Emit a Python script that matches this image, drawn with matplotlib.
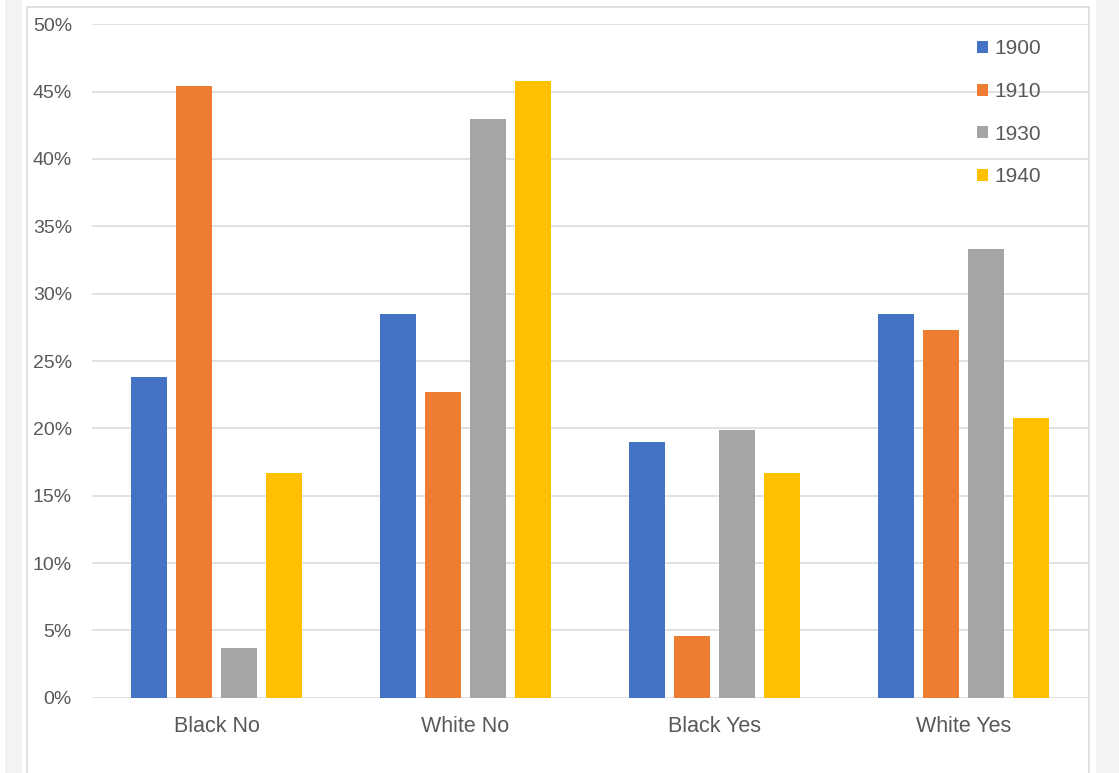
import matplotlib
matplotlib.use("Agg")
import matplotlib.pyplot as plt
from matplotlib.patches import Patch, Rectangle
import numpy as np

categories = ["Black No", "White No", "Black Yes", "White Yes"]
years = ["1900", "1910", "1930", "1940"]
v1900 = [23.8, 28.5, 19.0, 28.5]
v1910 = [45.4, 22.7, 4.6, 27.3]
v1930 = [3.7, 43.0, 19.9, 33.3]
v1940 = [16.7, 45.8, 16.7, 20.8]
series = [v1900, v1910, v1930, v1940]
colors = ["#4472C4", "#ED7D31", "#A5A5A5", "#FFC000"]
yticks = [0, 5, 10, 15, 20, 25, 30, 35, 40, 45, 50]

W, H = 1119, 773
fig = plt.figure(figsize=(W / 100, H / 100), dpi=100)
fig.patch.set_facecolor("white")
plt.rcParams['font.family'] = ['Liberation Sans', 'DejaVu Sans']

# background bands and chart border
fig.add_artist(Rectangle((5 / W, 0), 17 / W, 1, transform=fig.transFigure,
                         facecolor="#f3f3f3", edgecolor="none", zorder=0))
fig.add_artist(Rectangle((1096 / W, 0), 23 / W, 1, transform=fig.transFigure,
                         facecolor="#f3f3f3", edgecolor="none", zorder=0))
fig.add_artist(Rectangle((27 / W, -0.01), (1089 - 27) / W, (H - 7) / H + 0.01,
                         transform=fig.transFigure, facecolor="white",
                         edgecolor="#d9d9d9", linewidth=1.2, zorder=0))

ax = fig.add_axes([92 / W, (H - 697.7) / H, (1088 - 92) / W, (697.7 - 24.3) / H])
ax.set_facecolor("none")

x = np.arange(len(categories))
width = 36 / 249
step = 45 / 249
for i, (vals, c, lab) in enumerate(zip(series, colors, years)):
    ax.bar(x + (i - 1.5) * step, vals, width=width, color=c, label=lab, zorder=3)

ax.set_xlim(-0.5, 3.5)
ax.set_ylim(0, 50)
ax.set_yticks(yticks)
ax.set_yticklabels([f"{t}%" for t in yticks])
ax.set_xticks(x)
ax.set_xticklabels(categories)
ax.tick_params(axis="both", length=0, colors="#595959")
ax.tick_params(axis="y", pad=14.5, labelsize=14)
ax.tick_params(axis="x", pad=13.5, labelsize=15.5)
ax.grid(axis="y", color="#d9d9d9", linewidth=1.1, zorder=0)
for s in ax.spines.values():
    s.set_visible(False)

handles = [Patch(facecolor=c, edgecolor="none") for c in colors]
leg = fig.legend(handles, years, loc="upper left",
                 bbox_to_anchor=(977 / W, (H - 39.5) / H),
                 frameon=False, fontsize=15, labelcolor="#595959",
                 handlelength=0.53, handleheight=0.53, handletextpad=0.3,
                 labelspacing=1.13, borderaxespad=0, borderpad=0)

fig.savefig("out.png", dpi=100)
